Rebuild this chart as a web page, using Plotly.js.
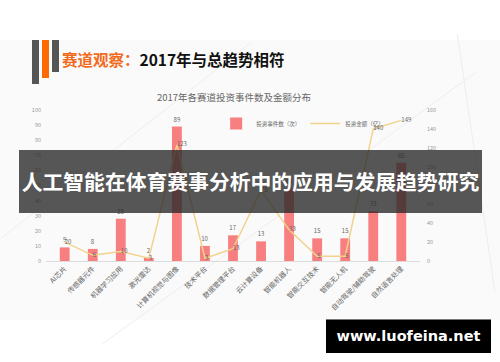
<!DOCTYPE html>
<html>
<head>
<meta charset="utf-8">
<script src="https://cdn.plot.ly/plotly-3.0.1.min.js"></script>
<style>
  html, body { margin: 0; padding: 0; background: #ffffff; }
  #wrap { position: relative; width: 500px; height: 362px; overflow: hidden; background: #ffffff; font-family: "Noto Sans CJK SC", "Noto Sans", sans-serif; }
  #bgpanel { position: absolute; left: 0; top: 40px; width: 500px; height: 280px; background: #fafafa; }
  #chart { position: absolute; left: 0; top: 0; width: 500px; height: 362px; }
  .deco { position: absolute; top: 40px; }
  #header { position: absolute; left: 62px; top: 48px; font-size: 15.5px; font-weight: bold; line-height: 22px; white-space: nowrap; letter-spacing: 0px; }
  #header .o { color: #f26b1d; }
  #header .b { color: #111111; }
  #banner { position: absolute; left: 19px; top: 150px; width: 463px; height: 63px; background: rgba(40,40,40,0.78); color: #ffffff; font-size: 20.8px; font-weight: bold; line-height: 63px; text-align: center; white-space: nowrap; }
  #wm { position: absolute; left: 326px; top: 319px; width: 165px; height: 34px; background: #000000; border-top: 1px solid #777; box-sizing: border-box; color: #ffffff; font-family: "DejaVu Sans", sans-serif; font-size: 14.5px; font-weight: bold; line-height: 32px; text-align: center; white-space: nowrap; }
</style>
</head>
<body>
<div id="wrap">
  <div id="bgpanel"></div>
  <div id="chart"></div>
  <div class="deco" style="left:32px; width:7px; height:44px; background:#555555;"></div>
  <div class="deco" style="left:42px; width:7px; height:38px; background:#ff6a00;"></div>
  <div class="deco" style="left:52px; width:7px; height:32px; background:#555555;"></div>
  <div id="header"><span class="o">赛道观察：</span><span class="b">2017年与总趋势相符</span></div>
  <div id="banner">人工智能在体育赛事分析中的应用与发展趋势研究</div>
  <div id="wm">www.luofeina.net</div>
</div>
<script>
const categories = ['AI芯片','传感器元件','机器学习应用','激光雷达','计算机视觉与图像','技术平台','数据管理平台','云计算设备','智能机器人','智能交互技术','智能无人机','自动驾驶/辅助驾驶','自然语言处理'];
const eventCounts = [9, 8, 28, 2, 89, 10, 17, 13, 48, 15, 15, 33, 65];
const amounts = [20, 6, 10, 3, 123, 3, 13, 75, 33, 5, 5, 140, 149];
const leftTicks = [0,10,20,30,40,50,60,70,80,90,100];
const rightTicks = [0,20,40,60,80,100,120,140,160];

const font = "Noto Sans CJK SC, Noto Sans, sans-serif";

const traces = [
  {
    type: 'bar', name: '投资事件数（次）', x: categories, y: eventCounts,
    marker: {color: '#f77f7f'},
    text: eventCounts.map(String), textposition: 'outside', cliponaxis: false,
    textfont: {size: 6, color: '#666666', family: font},
    yaxis: 'y'
  },
  {
    type: 'scatter', mode: 'lines+text', name: '投资金额（亿）', x: categories, y: amounts,
    line: {color: '#f2d28c', width: 1.5},
    text: amounts.map(String), textposition: 'middle right', cliponaxis: false,
    textfont: {size: 6, color: '#666666', family: font},
    yaxis: 'y2'
  }
];

const layout = {
  width: 500, height: 362,
  paper_bgcolor: 'rgba(0,0,0,0)', plot_bgcolor: 'rgba(0,0,0,0)',
  margin: {l: 46, r: 80, t: 110, b: 101, pad: 0},
  font: {family: font, color: '#666666'},
  title: {text: '2017年各赛道投资事件数及金额分布', font: {size: 9.5, color: '#666666', family: font},
          x: 0.468, xanchor: 'center', y: 1 - 98/362, yanchor: 'middle', yref: 'container'},
  bargap: 0.65,
  showlegend: true,
  legend: {orientation: 'h', x: 0.455, y: 0.91, xanchor: 'left', yanchor: 'middle',
           font: {size: 5.5, color: '#666666', family: font}, bgcolor: 'rgba(0,0,0,0)', itemwidth: 30},
  xaxis: {
    type: 'category', tickangle: -45, tickfont: {size: 7, color: '#666666', family: font},
    showgrid: false, showline: true, linecolor: '#dddddd', linewidth: 1, ticks: '', zeroline: false
  },
  yaxis: {
    range: [0, 100], tickvals: leftTicks, ticktext: leftTicks.map(String),
    tickfont: {size: 5.5, color: '#999999', family: font},
    showgrid: false, zeroline: false, showline: false, ticks: '', ticklabelstandoff: 4
  },
  yaxis2: {
    range: [0, 160], tickvals: rightTicks, ticktext: rightTicks.map(String), overlaying: 'y', side: 'right',
    tickfont: {size: 5.5, color: '#999999', family: font},
    showgrid: false, zeroline: false, showline: false, ticks: '', ticklabelstandoff: 6
  },
  shapes: [
    {type: 'line', xref: 'paper', yref: 'paper', x0: -0.12, y0: 0.15, x1: 0.55, y1: 1.45, line: {color: '#eeeeee', width: 1}, layer: 'below'},
    {type: 'line', xref: 'paper', yref: 'paper', x0: 0.15, y0: -0.55, x1: 1.15, y1: 1.25, line: {color: '#eeeeee', width: 1}, layer: 'below'},
    {type: 'line', xref: 'paper', yref: 'paper', x0: 1.1, y0: 1.5, x1: 1.2, y1: -0.2, line: {color: '#eeeeee', width: 1}, layer: 'below'}
  ]
};

Plotly.newPlot('chart', traces, layout, {displayModeBar: false, staticPlot: true});
</script>
</body>
</html>
